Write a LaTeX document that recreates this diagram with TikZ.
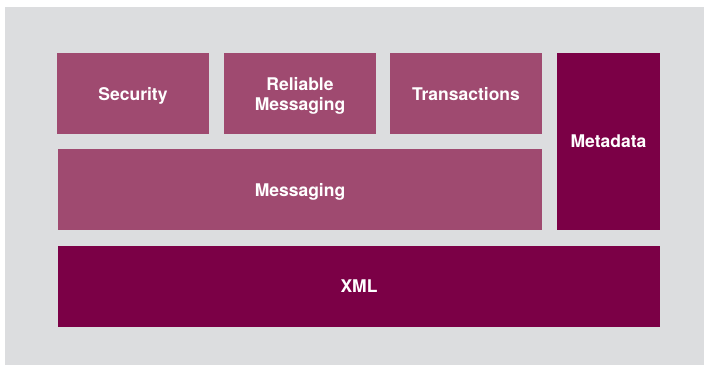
\documentclass[tikz,border=0pt]{standalone}
\usepackage{fontspec}
\setmainfont{TeX Gyre Heros}
\definecolor{layerpink}{HTML}{9F4A70}
\definecolor{layerdark}{HTML}{7B0046}
\definecolor{panelgray}{HTML}{DCDDDF}
\tikzset{
  layer/.style={fill=layerpink, text=white, inner sep=0pt, align=center,
    text depth=0pt, font=\fontsize{17.5}{20}\selectfont\bfseries},
  corelayer/.style={layer, fill=layerdark}
}
\begin{document}
\begin{tikzpicture}[x=1pt, y=-1pt]
\useasboundingbox (0,0) rectangle (704,365);
\fill[panelgray] (5,7) rectangle (704,365);

\node[layer, minimum width=152pt, minimum height=81pt] (security) at (133,93.5) {Security};
\node[layer, minimum width=152pt, minimum height=81pt] (reliable) at (300,93.5) {Reliable\\Messaging};
\node[layer, minimum width=152pt, minimum height=81pt] (transactions) at (466,93.5) {Transactions};
\node[layer, minimum width=484pt, minimum height=81pt] (messaging) at (300,189.5) {Messaging};

\node[corelayer, minimum width=103pt, minimum height=177pt] (metadata) at (608.5,141.5) {Metadata};
\node[corelayer, minimum width=602pt, minimum height=81pt] (xml) at (359,286.5) {XML};
\end{tikzpicture}
\end{document}
